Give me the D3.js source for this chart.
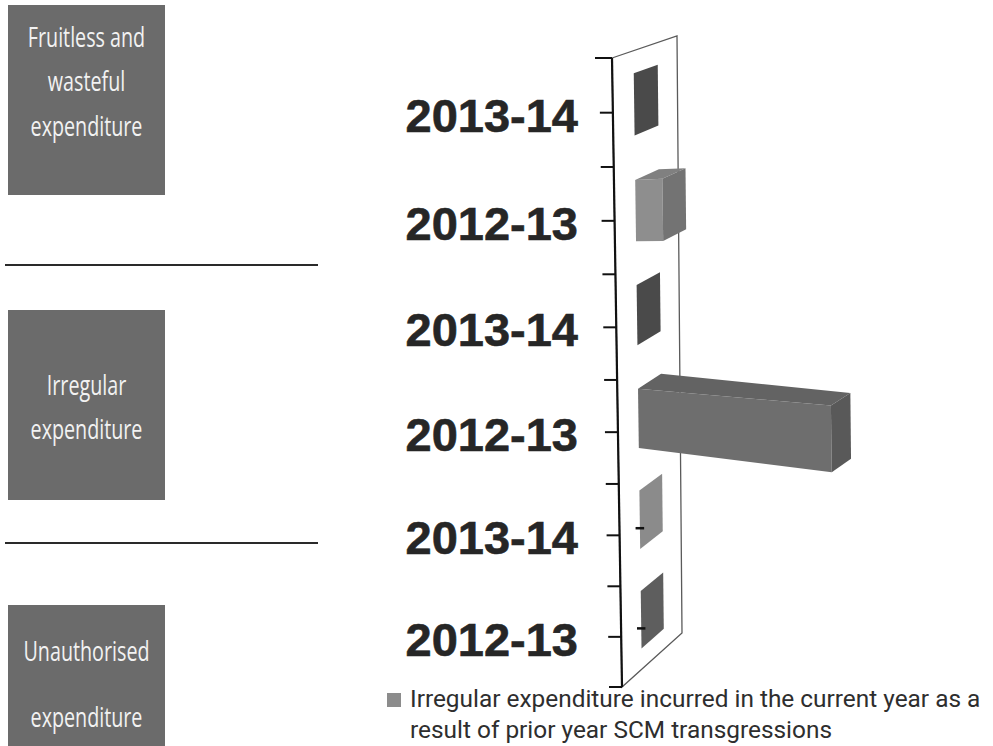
<!DOCTYPE html>
<html>
<head>
<meta charset="utf-8">
<script src="https://cdn.jsdelivr.net/npm/d3@7"></script>
<style>
  html, body { margin: 0; background: #fff; }
  svg { display: block; }
</style>
</head>
<body>
<svg id="chart" width="993" height="746"></svg>
<script>
// ---- data ----
const groupNames = [
  ["Fruitless and", "wasteful", "expenditure"],
  ["Irregular", "expenditure"],
  ["Unauthorised", "expenditure"]
];
const years      = ["2013-14", "2012-13", "2013-14", "2012-13", "2013-14", "2012-13"];
const groupIndex = [0, 0, 1, 1, 2, 2];
const values     = [0, 2.0, 0, 14.2, 0, 0];
const legendLines = [
  "Irregular expenditure incurred in the current year as a",
  "result of prior year SCM transgressions"
];
// per-point base tones (varied by point)
const tones = ["#5c5c5c", "#8e8e8e", "#5c5c5c", "#6e6e6e", "#acacac", "#747474"];

// ---- setup ----
const svg = d3.select("#chart");
const W = 993, H = 746;
svg.append("rect").attr("width", W).attr("height", H).attr("fill", "#fff");

// squeeze a text horizontally to a fraction of its natural width
function condense(sel, f) {
  sel.each(function () {
    const w = this.getComputedTextLength();
    d3.select(this).attr("textLength", w * f).attr("lengthAdjust", "spacingAndGlyphs");
  });
}

const n = years.length;
// category axis in half-category units, then warped for perspective
const cat = d3.scaleBand().domain(d3.range(n)).range([0, 2 * n])
  .paddingInner(0.42).paddingOuter(0.21);
const warp = u => 58 + 54.9 * u - 0.207 * u * u;
const x = d3.scaleLinear().domain([0, 16]).range([0, 221]);

// 3D -> screen: v = value length (px), u = category unit, z = depth fraction
function proj(v, u, z) {
  const y = warp(u);
  const t = (y - 58) / 629;
  const ax = 612 + 10 * t;
  const dx = (65 - 5 * t) * z * (1 - v * 0.0008);
  const s = -0.34 - 0.56 * t;
  const g = 0.075 + (y - 401) * 0.0006;
  return [ax + v + dx, y + v * g + dx * s];
}
const poly = pts => "M" + pts.map(p => p.join(",")).join("L") + "Z";

// ---- left side group boxes ----
const boxes = [
  { y: 5,   h: 190, base: [47, 91, 136] },
  { y: 310, h: 190, base: [395, 439] },
  { y: 605, h: 160, base: [661, 727] }
];
const left = svg.append("g");
boxes.forEach((b, i) => {
  left.append("rect").attr("x", 8).attr("y", b.y).attr("width", 157).attr("height", b.h)
    .attr("fill", "#6b6b6b");
  left.selectAll(null).data(groupNames[i]).join("text")
    .attr("x", 86.5).attr("y", (d, j) => b.base[j])
    .attr("text-anchor", "middle")
    .attr("font-family", "'Open Sans', sans-serif")
    .attr("font-size", 27).attr("fill", "#f2f2f2")
    .text(d => d)
    .call(condense, 0.73);
});
[265, 543].forEach(y => {
  left.append("line").attr("x1", 5).attr("x2", 318).attr("y1", y).attr("y2", y)
    .attr("stroke", "#2a2a2a").attr("stroke-width", 2);
});

// ---- wall ----
const U = 2 * n;
svg.append("path")
  .attr("d", poly([proj(0, 0, 0), proj(0, 0, 1), proj(0, U, 1), proj(0, U, 0)]))
  .attr("fill", "#fff").attr("stroke", "#5a5a5a").attr("stroke-width", 1.3);

// ---- category axis ----
const axisG = svg.append("g");
axisG.append("line")
  .attr("x1", proj(0, 0, 0)[0]).attr("y1", proj(0, 0, 0)[1])
  .attr("x2", proj(0, U, 0)[0]).attr("y2", proj(0, U, 0)[1])
  .attr("stroke", "#111").attr("stroke-width", 2.2);
axisG.selectAll("line.tick").data(d3.range(0, U + 1)).join("line").attr("class", "tick")
  .attr("x1", d => proj(0, d, 0)[0] - (d === 0 ? 17 : 13)).attr("x2", d => proj(0, d, 0)[0])
  .attr("y1", d => proj(0, d, 0)[1]).attr("y2", d => proj(0, d, 0)[1])
  .attr("stroke", "#111").attr("stroke-width", 2);

axisG.selectAll("text").data(years).join("text")
  .attr("x", 578)
  .attr("y", (d, i) => warp(cat(i) + cat.bandwidth() / 2) + 19)
  .attr("text-anchor", "end")
  .attr("font-family", "'Liberation Sans', Arial, sans-serif")
  .attr("font-weight", "bold").attr("font-size", 47).attr("fill", "#262626")
  .attr("stroke", "#262626").attr("stroke-width", 0.6)
  .text(d => d);

// ---- bars ----
const z0 = 0.33, z1 = 0.70;
const bars = svg.append("g");
values.forEach((val, i) => {
  const v = x(val);
  const ut = cat(i), ub = cat(i) + cat.bandwidth();
  const base = d3.color(tones[i]);
  const g = bars.append("g");
  if (v > 0) {
    // front face
    g.append("path")
      .attr("d", poly([proj(0, ut, z0), proj(v, ut, z0), proj(v, ub, z0), proj(0, ub, z0)]))
      .attr("fill", base.formatHex());
    // top face
    g.append("path")
      .attr("d", poly([proj(0, ut, z0), proj(0, ut, z1), proj(v, ut, z1), proj(v, ut, z0)]))
      .attr("fill", base.darker(0.3).formatHex());
  }
  // end face
  g.append("path")
    .attr("d", poly([proj(v, ut, z0), proj(v, ut, z1), proj(v, ub, z1), proj(v, ub, z0)]))
    .attr("fill", base.darker(0.6).formatHex());
});

// short markers on the zero-value bars of the last group
const markerBars = d3.range(n).filter(i => groupIndex[i] === 2);
bars.selectAll("line.marker").data(markerBars).join("line").attr("class", "marker")
  .each(function (i) {
    const uc = cat(i) + cat.bandwidth() / 2 + 0.1;
    const a = proj(0, uc, 0.26), b = proj(0, uc, 0.40);
    d3.select(this).attr("x1", a[0]).attr("y1", a[1]).attr("x2", b[0]).attr("y2", a[1]);
  })
  .attr("stroke", "#111").attr("stroke-width", 2.5);

// ---- legend ----
const leg = svg.append("g");
leg.append("rect").attr("x", 387).attr("y", 693).attr("width", 14).attr("height", 14)
  .attr("fill", "#8c8c8c");
leg.selectAll("text").data(legendLines).join("text")
  .attr("x", 410).attr("y", (d, i) => 707 + i * 31)
  .attr("font-family", "Roboto, 'Open Sans', sans-serif")
  .attr("font-size", 24.4).attr("fill", "#2e2e2e")
  .text(d => d);
</script>
</body>
</html>
